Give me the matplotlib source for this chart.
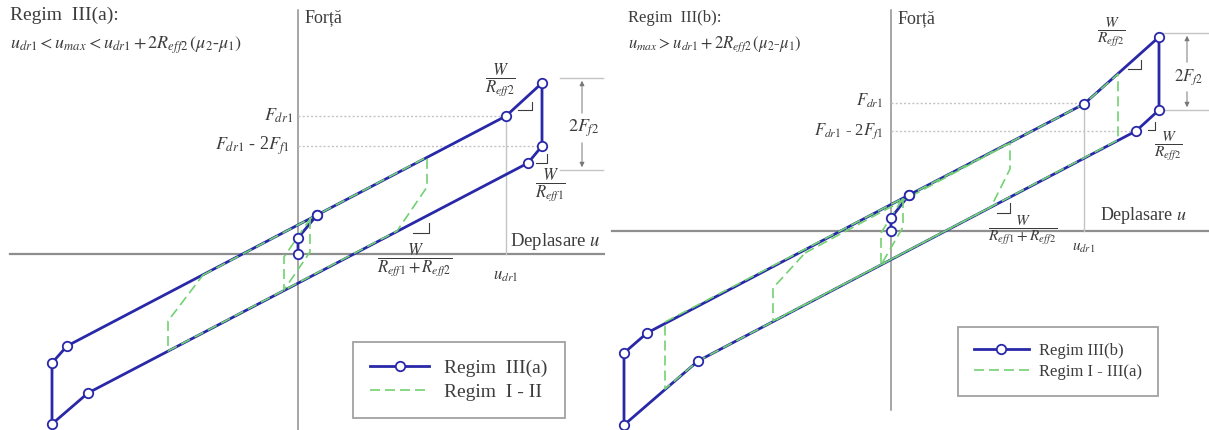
"""Hysteresis loops of the double friction pendulum: Regim III(a) and III(b)."""

import matplotlib.pyplot as plt
from matplotlib.lines import Line2D

plt.rcParams["font.family"] = ["Liberation Serif", "DejaVu Serif"]
plt.rcParams["mathtext.fontset"] = "stix"

BLUE = "#2828a8"
GREEN = "#72d272"
AXIS = "#8e8e8e"
GUIDE = "#c4c4c4"
INK = "#3c3c3c"

# Regim III(a): displacement u / force F, origin at the axis crossing
a_loop_u = [0, 0, 19, 208, 244, 244, 230, -210, -246, -246, -231, 19]
a_loop_f = [0, 16, 39, 138, 171, 108, 91, -139, -170, -109, -92, 39]
# Regim I - II loops
a_ref_u = [-95, 129, 129, 99, -130, -130, -95]
a_ref_f = [-21, 97, 67, 23, -97, -67, -21]
a_small_u = [12, 12, -14, -14, 12]
a_small_f = [35, 2, -36, -3, 35]
a_u_dr1, a_f_dr1, a_f_low = 208, 138, 108
a_dim_levels = [176, 84]

# Regim III(b)
b_loop_u = [0, 0, 18, 193, 268, 268, 245, -193, -267, -267, -244, 18]
b_loop_f = [0, 13, 36, 127, 194, 121, 100, -130, -194, -122, -102, 36]
# Regim I - III(a) loops
b_ref_u = [-226, 193, 227, 227, -193, -226, -226]
b_ref_f = [-91, 127, 157, 91, -130, -158, -91]
b_mid_u = [-86, 119, 119, 100, -118, -118, -86]
b_mid_f = [-22, 88, 62, 24, -90, -57, -22]
b_small_u = [12, 12, -10, -10, 12]
b_small_f = [33, 4, -34, -2, 33]
b_u_dr1, b_f_dr1, b_f_low = 193, 128, 100
b_dim_levels = [198, 121]


def draw_loop(ax, loop_u, loop_f, ref_loops):
    ax.plot(loop_u, loop_f, color=BLUE, lw=2.0, zorder=3, solid_joinstyle="miter")
    for u, f in ref_loops:
        ax.plot(u, f, color=GREEN, lw=1.2, ls=(0, (6, 3)), zorder=4)
    ax.plot(loop_u, loop_f, ls="none", marker="o", ms=6.8, mfc="white",
            mec=BLUE, mew=1.3, zorder=5)


def corner(ax, u0, u1, f0, f1):
    ax.plot([u0, u1, u1], [f0, f0, f1], color=INK, lw=0.8, zorder=2)


def dimension(ax, u_arrow, u0, u1, levels, text_f, label_size):
    top, bottom = levels
    for lev in levels:
        ax.plot([u0, u1], [lev, lev], color=GUIDE, lw=1.0, zorder=1)
    ax.annotate("", xy=(u_arrow, top), xytext=(u_arrow, text_f + 12),
                arrowprops=dict(arrowstyle="-|>", color="#777777", lw=0.7,
                                mutation_scale=7))
    ax.annotate("", xy=(u_arrow, bottom), xytext=(u_arrow, text_f - 12),
                arrowprops=dict(arrowstyle="-|>", color="#777777", lw=0.7,
                                mutation_scale=7))
    ax.text(u_arrow + 2, text_f, r"$2F_{f2}$", size=label_size, color=INK,
            ha="center", va="center")


def guides(ax, u_dr1, f_dr1, f_low, u_low_end):
    ax.plot([0, u_dr1], [f_dr1, f_dr1], color=GUIDE, lw=1.0, ls=(0, (1.5, 1.5)), zorder=1)
    ax.plot([0, u_low_end], [f_low, f_low], color=GUIDE, lw=1.0, ls=(0, (1.5, 1.5)), zorder=1)
    ax.plot([u_dr1, u_dr1], [0, f_dr1], color=GUIDE, lw=1.0, zorder=1)


fig = plt.figure(figsize=(12.09, 4.30), dpi=100)
ax_a = fig.add_axes([0, 0, 605 / 1209, 1])
ax_b = fig.add_axes([605 / 1209, 0, 604 / 1209, 1])
ax_a.set_xlim(-298, 307)
ax_a.set_ylim(-176, 254)
ax_b.set_xlim(-286, 318)
ax_b.set_ylim(-199, 231)
for ax in (ax_a, ax_b):
    ax.axis("off")

# ---- Regim III(a) ----
ax = ax_a
ax.plot([-288, 307], [0, 0], color=AXIS, lw=1.6, zorder=1)
ax.plot([0, 0], [-176, 244], color=AXIS, lw=1.1, zorder=1)
guides(ax, a_u_dr1, a_f_dr1, a_f_low, a_loop_u[5] - 4)
draw_loop(ax, a_loop_u, a_loop_f,
          [(a_ref_u, a_ref_f), (a_small_u, a_small_f)])
corner(ax, 220, 234, 144, 152)
corner(ax, 238, 249, 91, 100)
corner(ax, 115, 131, 21, 31)
dimension(ax, 284, 262, 305, a_dim_levels, 126, 13)

ax.text(-288, 239, "Regim  III(a):", size=14, color=INK, va="center")
ax.text(-288, 209, r"$u_{dr1} < u_{max} < u_{dr1} + 2R_{eff2}\,(\mu_2$-$\mu_1)$",
        size=13, color=INK, va="center")
ax.text(7, 236, "Forță", size=13, color=INK, va="center")
ax.text(-5, a_f_dr1, r"$F_{dr1}$", size=13, color=INK, ha="right", va="center")
ax.text(-8, a_f_low, r"$F_{dr1}$ - 2$F_{f1}$", size=13, color=INK, ha="right", va="center")
ax.text(202, 174, r"$\dfrac{W}{R_{eff2}}$", size=12, color=INK, ha="center", va="center")
ax.text(252, 69, r"$\dfrac{W}{R_{eff1}}$", size=12, color=INK, ha="center", va="center")
ax.text(212, 12, r"Deplasare $u$", size=13.5, color=INK, va="center")
ax.text(117, -6, r"$\dfrac{W}{R_{eff1} + R_{eff2}}$", size=12, color=INK,
        ha="center", va="center")
ax.text(a_u_dr1, -22, r"$u_{dr1}$", size=12, color=INK, ha="center", va="center")

handles_a = [
    Line2D([], [], color=BLUE, lw=2.0, marker="o", ms=6.8, mfc="white", mec=BLUE, mew=1.3),
    Line2D([], [], color=GREEN, lw=1.2, ls=(0, (6, 3))),
]
leg = ax.legend(handles_a, ["Regim  III(a)", "Regim  I - II"], loc="upper left",
                bbox_to_anchor=(55, -88), bbox_transform=ax.transData,
                fontsize=14, frameon=True, fancybox=False, edgecolor="#8a8a8a",
                borderpad=0.9, labelspacing=0.3, handlelength=3.0,
                handletextpad=0.8, borderaxespad=0, numpoints=1)
leg.get_frame().set_linewidth(1.3)
for t in leg.get_texts():
    t.set_color(INK)

# ---- Regim III(b) ----
ax = ax_b
ax.plot([-279, 318], [0, 0], color=AXIS, lw=1.6, zorder=1)
ax.plot([0, 0], [-179, 221], color=AXIS, lw=1.1, zorder=1)
guides(ax, b_u_dr1, b_f_dr1, b_f_low, b_loop_u[6] - 3)
draw_loop(ax, b_loop_u, b_loop_f,
          [(b_ref_u, b_ref_f), (b_mid_u, b_mid_f), (b_small_u, b_small_f)])
corner(ax, 237, 250, 162, 171)
corner(ax, 257, 264, 101, 109)
corner(ax, 106, 119, 18, 28)
dimension(ax, 296, 271, 318, b_dim_levels, 154, 12)

ax.text(-263, 213, "Regim  III(b):", size=12, color=INK, va="center")
ax.text(-263, 187, r"$u_{max} > u_{dr1} + 2R_{eff2}\,(\mu_2$-$\mu_1)$",
        size=12, color=INK, va="center")
ax.text(7, 212, "Forță", size=13, color=INK, va="center")
ax.text(-8, 130, r"$F_{dr1}$", size=12, color=INK, ha="right", va="center")
ax.text(-8, b_f_low, r"$F_{dr1}$ - 2$F_{f1}$", size=12, color=INK, ha="right", va="center")
ax.text(220, 198, r"$\dfrac{W}{R_{eff2}}$", size=11, color=INK, ha="center", va="center")
ax.text(277, 84, r"$\dfrac{W}{R_{eff2}}$", size=11, color=INK, ha="center", va="center")
ax.text(209, 15, r"Deplasare $u$", size=13, color=INK, va="center")
ax.text(132, 0, r"$\dfrac{W}{R_{eff1} + R_{eff2}}$", size=11, color=INK,
        ha="center", va="center")
ax.text(b_u_dr1, -17, r"$u_{dr1}$", size=11, color=INK, ha="center", va="center")

handles_b = [
    Line2D([], [], color=BLUE, lw=2.0, marker="o", ms=6.8, mfc="white", mec=BLUE, mew=1.3),
    Line2D([], [], color=GREEN, lw=1.2, ls=(0, (6, 3))),
]
leg = ax.legend(handles_b, ["Regim III(b)", "Regim I - III(a)"], loc="upper left",
                bbox_to_anchor=(67, -96), bbox_transform=ax.transData,
                fontsize=12, frameon=True, fancybox=False, edgecolor="#8a8a8a",
                borderpad=0.95, labelspacing=0.3, handlelength=3.3,
                handletextpad=0.6, borderaxespad=0, numpoints=1)
leg.get_frame().set_linewidth(1.3)
for t in leg.get_texts():
    t.set_color(INK)

fig.savefig("out.png", dpi=100)
